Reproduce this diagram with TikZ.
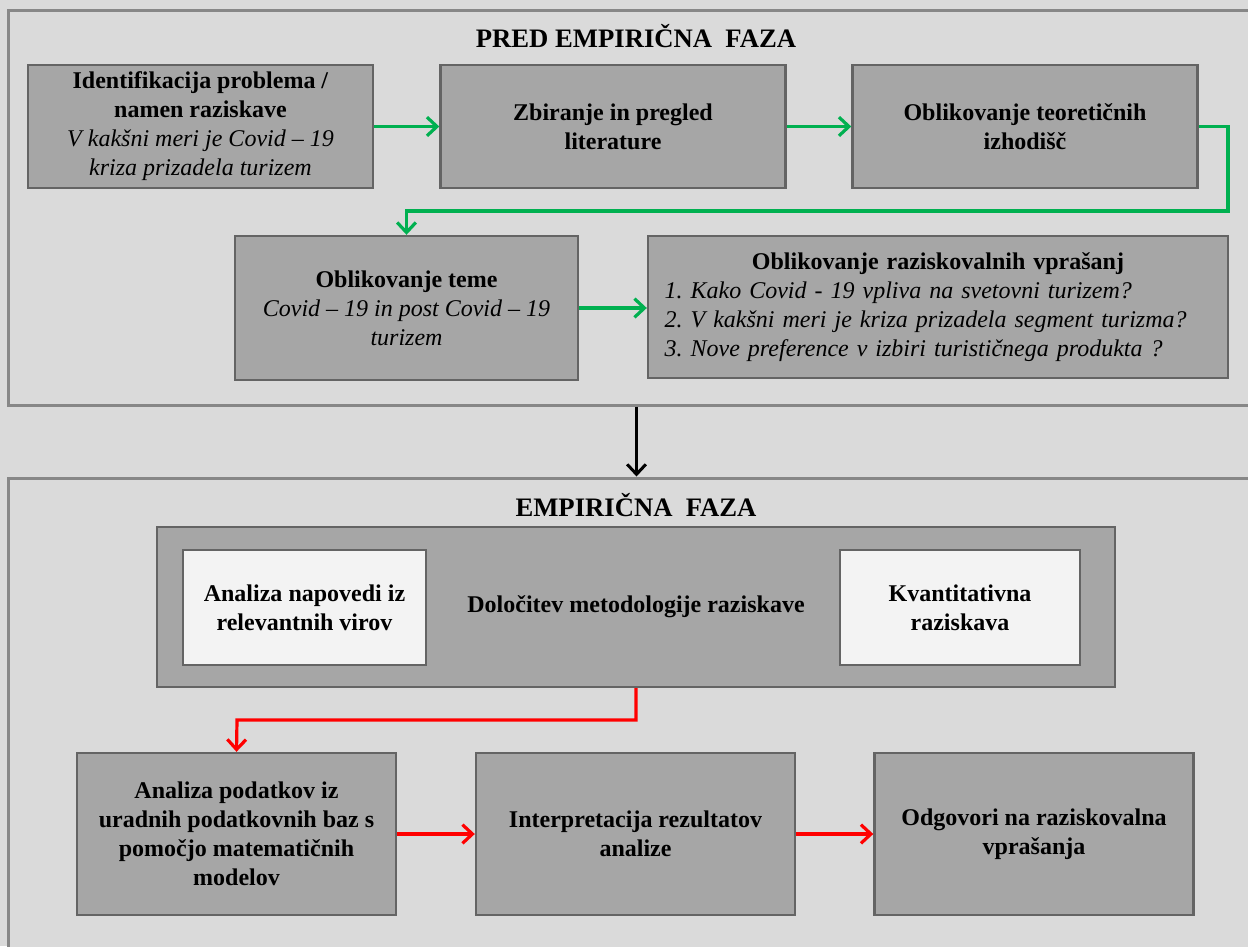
\documentclass[tikz,border=0pt]{standalone}
\usepackage{fontspec}
\setmainfont{Liberation Serif}
\usetikzlibrary{arrows.meta}
\frenchspacing

\definecolor{ozadje}{RGB}{218,218,218}
\definecolor{robfaze}{RGB}{135,135,135}
\definecolor{polnilo}{RGB}{166,166,166}
\definecolor{robsivo}{RGB}{100,100,100}
\definecolor{belina}{RGB}{243,243,243}
\definecolor{zelena}{RGB}{0,176,80}
\definecolor{rdeca}{RGB}{255,0,0}

\begin{document}
\begin{tikzpicture}[x=0.75pt,y=0.75pt,yscale=-1,xscale=1,
    faza/.style={draw=robfaze, line width=2.25pt, fill=ozadje, inner sep=0pt, minimum width=942.75pt},
    sivo/.style={draw=robsivo, line width=1.8pt, fill=polnilo, align=center, inner sep=2pt,
        font=\fontsize{18}{21.75}\selectfont},
    belo/.style={sivo, fill=belina, minimum width=182.25pt, minimum height=86.25pt},
    naslov/.style={font=\fontsize{20}{24}\selectfont\bfseries},
    zpuscica/.style={draw=zelena, line width=2.4pt, -{Straight Barb[length=7.5pt,width=14pt]}},
    rpuscica/.style={draw=rdeca, line width=2.4pt, -{Straight Barb[length=7.5pt,width=14pt]}}
    ]
    \useasboundingbox (0,0) rectangle (1248,946);
    \fill[ozadje] (0,0) rectangle (1248,946);

    %Shape: Rectangle (faze)
    \node[faza, minimum height=296.25pt] (predfaza) at (636.5,207.5) {};
    \node[faza, minimum height=365.25pt] (empfaza) at (636.5,721.5) {};

    % Text Node
    \node[naslov] (naslov1) at (636,36) {PRED EMPIRIČNA\ \ FAZA};
    \node[naslov] (naslov2) at (636,505) {EMPIRIČNA\ \ FAZA};

    %Shape: Rectangle (pred empiricna faza)
    \node[sivo, minimum width=258.75pt, minimum height=92.25pt] (identif) at (200.5,126.5)
        {\textbf{Identifikacija problema /}\\ \textbf{namen raziskave}\\ \textit{V kakšni meri je Covid -- 19}\\ \textit{kriza prizadela turizem}};
    \node[sivo, minimum width=258.75pt, minimum height=92.25pt] (zbiranje) at (613,126.5)
        {\textbf{Zbiranje in pregled}\\ \textbf{literature}};
    \node[sivo, minimum width=258.75pt, minimum height=92.25pt] (teorija) at (1025,126.5)
        {\textbf{Oblikovanje teoretičnih}\\ \textbf{izhodišč}};
    \node[sivo, minimum width=257.25pt, minimum height=108pt] (tema) at (406.5,308)
        {\textbf{Oblikovanje teme}\\ \textit{Covid -- 19 in post Covid -- 19}\\ \textit{turizem}};
    \node[sivo, minimum width=435pt, minimum height=106.5pt, text width=410pt, align=left] (vprasanja) at (938,307)
        {\makebox[\hsize]{\textbf{Oblikovanje raziskovalnih vprašanj}}\\
         \textit{1. Kako Covid - 19 vpliva na svetovni turizem?}\\
         \textit{2. V kakšni meri je kriza prizadela segment turizma?}\\
         \textit{3. Nove preference v izbiri turističnega produkta ?}};

    %Shape: Rectangle (empiricna faza)
    \node[sivo, minimum width=718.5pt, minimum height=120pt] (metod) at (636,607)
        {\textbf{Določitev metodologije raziskave}};
    \node[belo] (napovedi) at (304.5,607.5) {\textbf{Analiza napovedi iz}\\ \textbf{relevantnih virov}};
    \node[belo, minimum width=180pt] (kvant) at (960,607.5) {\textbf{Kvantitativna}\\ \textbf{raziskava}};
    \node[sivo, minimum width=239.25pt, minimum height=121.5pt] (podatki) at (236.5,834)
        {\textbf{Analiza podatkov iz}\\ \textbf{uradnih podatkovnih baz s}\\ \textbf{pomočjo matematičnih}\\ \textbf{modelov}};
    \node[sivo, minimum width=239.25pt, minimum height=121.5pt] (interp) at (635.5,834)
        {\textbf{Interpretacija rezultatov}\\ \textbf{analize}};
    \node[sivo, minimum width=239.25pt, minimum height=121.5pt] (odgovori) at (1034,834)
        {\textbf{Odgovori na raziskovalna}\\ \textbf{vprašanja}};

    \coordinate (zavoj1) at (1228,211);
    \coordinate (zavoj2) at (237,720);

    %Straight Lines
    \draw[zpuscica] (identif) -- (zbiranje);
    \draw[zpuscica] (zbiranje) -- (teorija);
    \draw[zpuscica] (teorija.east) -| (zavoj1) -| (tema.north);
    \draw[zpuscica] (tema.east) -- (tema.east -| vprasanja.west);
    \draw[line width=2.25pt, -{Straight Barb[length=7.5pt,width=14pt]}] (predfaza.south) -- (empfaza.north);
    \draw[rpuscica] (metod.south) |- (zavoj2) -- (podatki.north);
    \draw[rpuscica] (podatki) -- (interp);
    \draw[rpuscica] (interp) -- (odgovori);

\end{tikzpicture}
\end{document}
